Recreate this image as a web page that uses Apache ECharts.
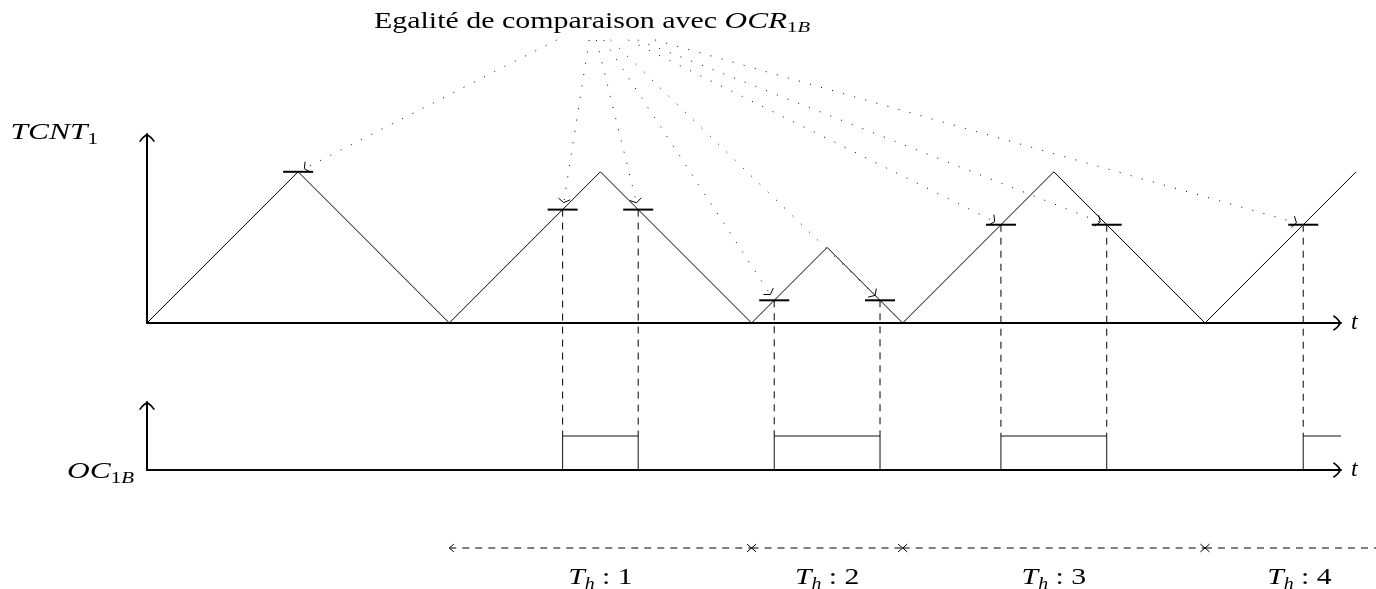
<!DOCTYPE html>
<html><head><meta charset="utf-8">
<script src="https://cdn.jsdelivr.net/npm/echarts@6/dist/echarts.min.js"></script>
<style>html,body{margin:0;padding:0;background:#fff}#c{width:1376px;height:589px}</style>
</head><body><div id="c"></div>
<script>
// ---------------- data ----------------
const tcntT = [0, 2, 4, 6, 8, 9, 10, 12, 14, 16];
const tcntV = [0, 2, 0, 2, 0, 1, 0, 2, 0, 2];
const compT = [2, 5.5, 6.5, 8.3, 9.7, 11.3, 12.7, 15.3];
const compV = [2, 1.5, 1.5, 0.3, 0.3, 1.3, 1.3, 1.3];
const ocEdges = [5.5, 6.5, 8.3, 9.7, 11.3, 12.7, 15.3]; // alternating rise / fall
const ocHigh = 1;
const ocEnd = 15.8;
const periodBounds = [4, 8, 10, 14, 16.5];
const periodLabels = ['1', '2', '3', '4'];
const titleText = '{r|Egalité de comparaison avec }{i|OCR}{s|1}{si|B}';
const tcntName = '{i|TCNT}{s|1}';
const ocName = '{i|OC}{s|1}{si|B}';

// ---------------- style helpers ----------------
const FONT = 'Liberation Serif';
const SX = 1.31;
const RICH = {
  r: {fontFamily: FONT, fontSize: 24, fontWeight: 'normal', color: '#000', lineHeight: 30},
  i: {fontFamily: FONT, fontStyle: 'italic', fontWeight: 'normal', fontSize: 24, color: '#000', lineHeight: 30},
  s: {fontFamily: FONT, fontSize: 16, fontWeight: 'normal', color: '#000', lineHeight: 19, verticalAlign: 'bottom'},
  si: {fontFamily: FONT, fontStyle: 'italic', fontWeight: 'normal', fontSize: 16, color: '#000', lineHeight: 19, verticalAlign: 'bottom'}
};
const TITLE_RICH = {
  r: {fontFamily: FONT, fontSize: 22.5, fontWeight: 'normal', color: '#000', lineHeight: 28},
  i: {fontFamily: FONT, fontStyle: 'italic', fontWeight: 'normal', fontSize: 23.5, color: '#000', lineHeight: 28},
  s: {fontFamily: FONT, fontSize: 15.5, fontWeight: 'normal', color: '#000', lineHeight: 18, verticalAlign: 'bottom'},
  si: {fontFamily: FONT, fontStyle: 'italic', fontWeight: 'normal', fontSize: 15.5, color: '#000', lineHeight: 18, verticalAlign: 'bottom'}
};
const ARROW = 'path://M8 0 Q11.5 0.8 16 7.2 L14.6 8 Q11 2.6 8 2.2 Q5 2.6 1.4 8 L0 7.2 Q4.5 0.8 8 0 Z';
const LABEL_ANCHOR = [592, 22];
const LABEL_BOTTOM = 40;

function axisX(gi) {
  return {
    gridIndex: gi, type: 'value', min: 0, max: ocEnd,
    axisLine: {show: true, onZero: false, lineStyle: {color: '#000', width: 2},
      symbol: ['none', ARROW], symbolSize: [16, 8], symbolOffset: [0, -4]},
    axisTick: {show: false}, axisLabel: {show: false}, splitLine: {show: false},
    name: 't', nameLocation: 'end', nameGap: 10,
    nameTextStyle: {fontFamily: FONT, fontStyle: 'italic', fontSize: 24, color: '#000', verticalAlign: 'middle'}
  };
}
function axisY(gi, max) {
  return {
    gridIndex: gi, type: 'value', min: 0, max: max,
    axisLine: {show: true, onZero: false, lineStyle: {color: '#000', width: 2},
      symbol: ['none', ARROW], symbolSize: [16, 8], symbolOffset: [0, -4]},
    axisTick: {show: false}, axisLabel: {show: false}, splitLine: {show: false}
  };
}

function barb(tip, dir, len, ang, w) {
  const bx = -dir[0], by = -dir[1];
  const c = Math.cos(ang), s = Math.sin(ang);
  const p1 = [tip[0] + len * (bx * c - by * s), tip[1] + len * (bx * s + by * c)];
  const p2 = [tip[0] + len * (bx * c + by * s), tip[1] + len * (-bx * s + by * c)];
  return {type: 'polyline', shape: {points: [p1, tip, p2]}, style: {stroke: '#000', lineWidth: w || 1, fill: null}};
}

const chart = echarts.init(document.getElementById('c'));

function renderWave(params, api) {
  const a = api.coord([api.value(0), api.value(1)]);
  const b = api.coord([api.value(2), api.value(3)]);
  return {type: 'line', shape: {x1: a[0], y1: a[1], x2: b[0], y2: b[1]},
    style: {stroke: '#000', lineWidth: 1}};
}

function renderMarker(params, api) {
  const t = api.value(0), v = api.value(1), idx = api.value(2);
  const p = api.coord([t, v]);
  const children = [];
  if (idx > 0) {
    const pb = chart.convertToPixel({gridIndex: 1}, [t, ocHigh]);
    children.push({type: 'line', shape: {x1: p[0], y1: p[1], x2: p[0], y2: pb[1]},
      style: {stroke: '#000', lineWidth: 1, lineDash: [7, 6]}});
  }
  children.push({type: 'line', shape: {x1: p[0] - 15, y1: p[1], x2: p[0] + 15, y2: p[1]},
    style: {stroke: '#000', lineWidth: 2}});
  // dotted arrow from the label
  const cx = LABEL_ANCHOR[0], cy = LABEL_ANCHOR[1];
  const k = (LABEL_BOTTOM - cy) / (p[1] - cy);
  const S = [cx + (p[0] - cx) * k, LABEL_BOTTOM];
  let dx = p[0] - S[0], dy = p[1] - S[1];
  const L = Math.sqrt(dx * dx + dy * dy); dx /= L; dy /= L;
  const T = [p[0] - dx * 7, p[1] - dy * 7];
  children.push({type: 'line', shape: {x1: S[0], y1: S[1], x2: T[0], y2: T[1]},
    style: {stroke: '#000', lineWidth: 1, lineDash: [1, 10.5]}});
  children.push(barb(T, [dx, dy], 7, 1.0, 1));
  return {type: 'group', children: children};
}

function renderPeriod(params, api) {
  const a = api.value(0), b = api.value(1), idx = api.value(2);
  const pa = api.coord([a, 0.75]), pb = api.coord([b, 0.75]);
  const pm = api.coord([(a + b) / 2, 0]);
  return {type: 'group', children: [
    {type: 'line', shape: {x1: pa[0], y1: pa[1], x2: pb[0], y2: pb[1]},
      style: {stroke: '#000', lineWidth: 1, lineDash: [7, 6]}},
    barb(pa, [-1, 0], 6, 0.7, 1),
    barb(pb, [1, 0], 6, 0.7, 1),
    {type: 'text', x: pm[0], y: pm[1], scaleX: 1.24, style: {
      text: '{i|T}{si|h}{r| : ' + periodLabels[idx] + '}', rich: RICH,
      align: 'center', verticalAlign: 'middle'}}
  ]};
}

// OC waveform points
const ocData = [[0, 0]];
ocEdges.forEach(function (e, i) { ocData.push([e, i % 2 === 0 ? ocHigh : 0]); });
ocData.push([ocEnd, ocData[ocData.length - 1][1]]);

// TCNT segments
const waveSegs = [];
for (let i = 0; i < tcntT.length - 1; i++) waveSegs.push([tcntT[i], tcntV[i], tcntT[i + 1], tcntV[i + 1]]);

const option = {
  animation: false,
  backgroundColor: '#fff',
  graphic: [
    {type: 'text', x: LABEL_ANCHOR[0], y: LABEL_ANCHOR[1], scaleX: 1.33,
      style: {text: titleText, rich: TITLE_RICH, align: 'center', verticalAlign: 'middle'}},
    {type: 'text', x: 98, y: 133, scaleX: SX,
      style: {text: tcntName, rich: RICH, align: 'right', verticalAlign: 'middle'}},
    {type: 'text', x: 134, y: 472, scaleX: SX,
      style: {text: ocName, rich: RICH, align: 'right', verticalAlign: 'middle'}}
  ],
  grid: [
    {left: 147, width: 1194, top: 134, height: 189},
    {left: 147, width: 1194, top: 402, height: 68},
    {left: 147, width: 1194, top: 538, height: 40}
  ],
  xAxis: [axisX(0), axisX(1), {gridIndex: 2, type: 'value', min: 0, max: ocEnd, show: false}],
  yAxis: [
    axisY(0, 2.5),
    axisY(1, 2),
    {gridIndex: 2, type: 'value', min: 0, max: 1, show: false}
  ],
  series: [
    {type: 'custom', xAxisIndex: 0, yAxisIndex: 0, clip: false, silent: true,
      renderItem: renderWave, data: waveSegs},
    {type: 'line', xAxisIndex: 1, yAxisIndex: 1, symbol: 'none', clip: false, silent: true, step: 'end',
      lineStyle: {color: '#111', width: 1}, data: ocData},
    {type: 'custom', xAxisIndex: 0, yAxisIndex: 0, clip: false, silent: true, z: 5,
      renderItem: renderMarker,
      data: compT.map(function (t, i) { return [t, compV[i], i]; })},
    {type: 'custom', xAxisIndex: 2, yAxisIndex: 2, clip: false, silent: true,
      renderItem: renderPeriod,
      data: periodLabels.map(function (l, i) { return [periodBounds[i], periodBounds[i + 1], i]; })}
  ]
};
chart.setOption(option);
</script>
</body></html>
